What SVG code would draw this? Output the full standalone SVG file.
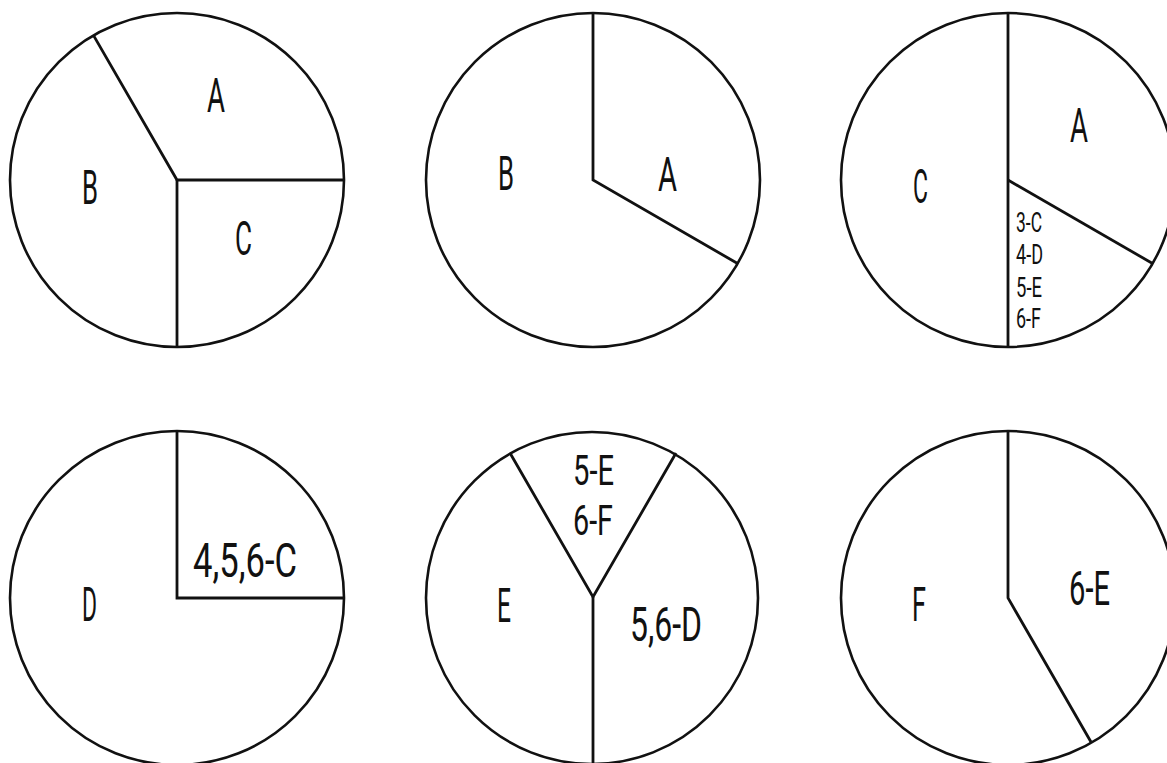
<svg xmlns="http://www.w3.org/2000/svg" width="1167" height="763" viewBox="0 0 1167 763">
<style>
  .bg { fill: #ffffff; }
  .pie { fill: #ffffff; stroke: #111111; stroke-width: 2.6; }
  .div { fill: none; stroke: #111111; stroke-width: 2.8; stroke-linejoin: miter; }
  .lbl { font-family: "Roboto", "Liberation Sans", sans-serif; font-weight: 400; font-size: 49px; fill: #111111; }
  .mid { font-family: "Roboto", "Liberation Sans", sans-serif; font-weight: 400; font-size: 43px; fill: #111111; }
  .sm { font-family: "Roboto", "Liberation Sans", sans-serif; font-weight: 400; font-size: 28px; fill: #111111; }
</style>
<rect class="bg" x="0" y="0" width="1167" height="763"/>

<g id="pie1">
  <circle class="pie" cx="177" cy="180" r="167"/>
  <polyline class="div" points="93.5,35.4 177,180 344,180"/>
  <line class="div" x1="177" y1="180" x2="177" y2="347"/>
  <text class="lbl" x="207" y="112" textLength="18" lengthAdjust="spacingAndGlyphs">A</text>
  <text class="lbl" x="82" y="204" textLength="16" lengthAdjust="spacingAndGlyphs">B</text>
  <text class="lbl" x="235" y="255" textLength="17" lengthAdjust="spacingAndGlyphs">C</text>
</g>

<g id="pie2">
  <circle class="pie" cx="593" cy="180" r="167"/>
  <polyline class="div" points="593,13 593,180 737.6,263.5"/>
  <text class="lbl" x="498" y="190" textLength="16" lengthAdjust="spacingAndGlyphs">B</text>
  <text class="lbl" x="658" y="191" textLength="19" lengthAdjust="spacingAndGlyphs">A</text>
</g>

<g id="pie3">
  <circle class="pie" cx="1008" cy="180" r="167"/>
  <line class="div" x1="1008" y1="13" x2="1008" y2="347"/>
  <line class="div" x1="1008" y1="180" x2="1152.6" y2="263.5"/>
  <text class="lbl" x="1070" y="142" textLength="18" lengthAdjust="spacingAndGlyphs">A</text>
  <text class="lbl" x="913" y="203" textLength="15" lengthAdjust="spacingAndGlyphs">C</text>
  <text class="sm" x="1016" y="232" textLength="26" lengthAdjust="spacingAndGlyphs">3-C</text>
  <text class="sm" x="1016" y="264" textLength="27" lengthAdjust="spacingAndGlyphs">4-D</text>
  <text class="sm" x="1016" y="297" textLength="26" lengthAdjust="spacingAndGlyphs">5-E</text>
  <text class="sm" x="1016" y="328" textLength="25" lengthAdjust="spacingAndGlyphs">6-F</text>
</g>

<g id="pie4">
  <circle class="pie" cx="177" cy="598" r="167"/>
  <polyline class="div" points="177,431 177,598 344,598"/>
  <text class="lbl" x="193" y="577" textLength="104" lengthAdjust="spacingAndGlyphs">4,5,6-C</text>
  <text class="lbl" x="82" y="621" textLength="15" lengthAdjust="spacingAndGlyphs">D</text>
</g>

<g id="pie5">
  <circle class="pie" cx="592" cy="598" r="166"/>
  <polyline class="div" points="510,453 593,597 676,453"/>
  <line class="div" x1="593" y1="597" x2="593" y2="764"/>
  <text class="mid" x="573" y="485" textLength="41" lengthAdjust="spacingAndGlyphs">5-E</text>
  <text class="mid" x="573" y="535" textLength="40" lengthAdjust="spacingAndGlyphs">6-F</text>
  <text class="lbl" x="497" y="622" textLength="14" lengthAdjust="spacingAndGlyphs">E</text>
  <text class="lbl" x="630" y="641" textLength="72" lengthAdjust="spacingAndGlyphs">5,6-D</text>
</g>

<g id="pie6">
  <circle class="pie" cx="1008" cy="598" r="167"/>
  <polyline class="div" points="1008,431 1008,598 1091,742"/>
  <text class="lbl" x="912" y="621" textLength="14" lengthAdjust="spacingAndGlyphs">F</text>
  <text class="lbl" x="1069" y="605" textLength="41" lengthAdjust="spacingAndGlyphs">6-E</text>
</g>

<g id="connectors"></g>
</svg>
